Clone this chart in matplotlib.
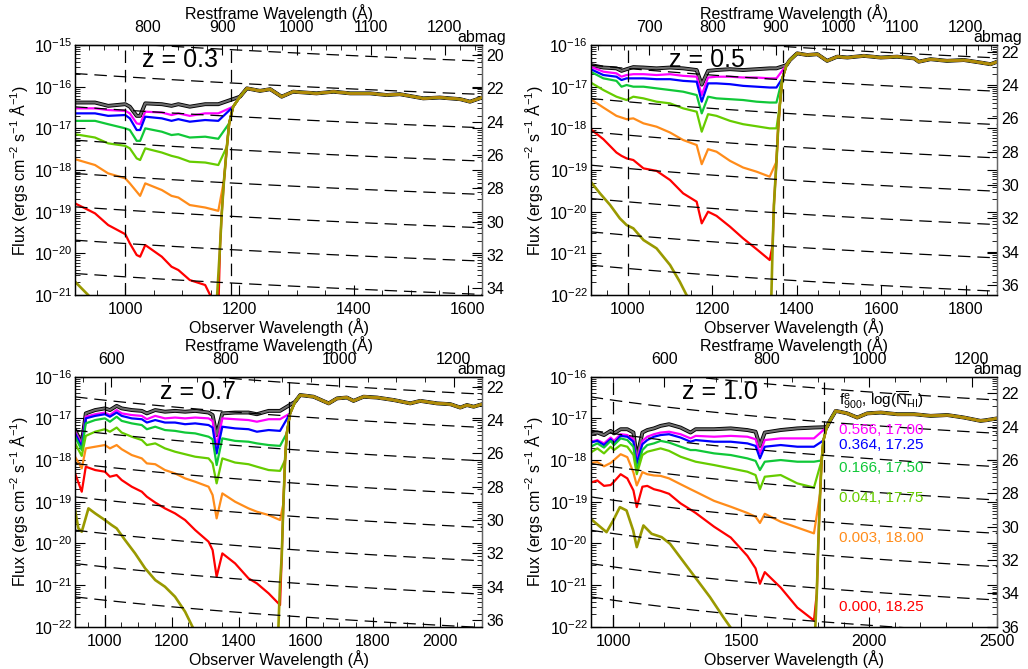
import numpy as np
import matplotlib
matplotlib.use('Agg')
import matplotlib.pyplot as plt
from matplotlib.ticker import MultipleLocator, LogLocator, NullFormatter

plt.rcParams['font.family'] = ['Liberation Sans', 'DejaVu Sans']
plt.rcParams['mathtext.fontset'] = 'custom'
plt.rcParams['mathtext.rm'] = 'Liberation Sans'
plt.rcParams['mathtext.it'] = 'Liberation Sans:italic'
plt.rcParams['mathtext.bf'] = 'Liberation Sans:bold'
plt.rcParams['font.size'] = 11.5

# ---------------- data (observed wavelength in A, log10 flux) ----------------
nan = np.nan
redshifts = [0.3, 0.5, 0.7, 1.0]
f900_labels = ['0.566', '0.364', '0.166', '0.041', '0.003', '0.000']
lognhi_labels = ['17.00', '17.25', '17.50', '17.75', '18.00', '18.25']
ab_levels = [18, 20, 22, 24, 26, 28, 30, 32, 34, 36, 38, 40]

# z = 0.3
wave_03 = [912, 947, 970, 1000, 1008, 1020, 1026, 1035, 1064, 1081, 1093, 1113, 1140, 1163]
black_03 = [-16.38, -16.38, -16.46, -16.42, -16.48, -16.70, -16.70, -16.40, -16.42, -16.46, -16.42, -16.48, -16.42, -16.42]
magenta_03 = [-16.52, -16.52, -16.56, -16.58, -16.64, -16.88, -16.90, -16.60, -16.62, -16.68, -16.64, -16.70, -16.64, -16.64]
blue_03 = [-16.64, -16.64, -16.70, -16.68, -16.76, -17.04, -17.04, -16.72, -16.76, -16.82, -16.78, -16.84, -16.80, -16.82]
green_03 = [-16.82, -16.82, -16.90, -17.00, -17.04, -17.30, -17.30, -17.00, -17.08, -17.16, -17.14, -17.22, -17.20, -17.25]
ygreen_03 = [-17.14, -17.22, -17.36, -17.42, -17.48, -17.72, -17.76, -17.48, -17.58, -17.66, -17.70, -17.80, -17.82, -17.88]
orange_03 = [-17.74, -17.88, -18.08, -18.20, -18.32, -18.52, -18.62, -18.32, -18.48, -18.62, -18.66, -18.84, -18.90, -18.98]
red_03 = [-18.80, -19.04, -19.32, -19.54, -19.76, -20.04, -20.08, -19.80, -20.08, -20.32, -20.40, -20.64, -20.76, -21.40]
olive_wave_03 = [912, 935, 960, 1000, 1100, 1150]
olive_03 = [-20.68, -21.0, -21.4, -21.9, -22.8, -23.2]
edge_wave_03 = [1158, 1161, 1166, 1169, 1173, 1178, 1182, 1189, 1201]
edge_03 = [-21.6, -21.0, -19.84, -19.04, -18.24, -17.44, -16.88, -16.48, -16.24]
cont_wave_03 = [1213, 1236, 1254, 1274, 1294, 1335, 1365, 1394, 1429, 1458, 1481, 1522, 1551, 1587, 1604, 1625]
cont_03 = [-16.04, -16.10, -16.06, -16.24, -16.12, -16.16, -16.12, -16.16, -16.16, -16.20, -16.18, -16.28, -16.26, -16.30, -16.36, -16.26]

# z = 0.5
wave_05 = [912, 942, 973, 985, 997, 1013, 1037, 1068, 1100, 1131, 1163, 1175, 1190, 1210, 1242, 1273, 1305, 1336, 1352]
black_05 = [-16.48, -16.54, -16.56, -16.62, -16.58, -16.53, -16.54, -16.56, -16.54, -16.56, -16.60, -16.95, -16.62, -16.60, -16.58, -16.60, -16.58, -16.56, -16.56]
magenta_05 = [-16.52, -16.64, -16.68, -16.76, -16.72, -16.70, -16.70, -16.72, -16.70, -16.74, -16.76, -17.20, -16.78, -16.76, -16.76, -16.78, -16.78, -16.80, -16.80]
blue_05 = [-16.58, -16.72, -16.76, -16.84, -16.80, -16.80, -16.80, -16.82, -16.82, -16.86, -16.88, -17.36, -16.92, -16.92, -16.94, -16.98, -17.00, -17.02, -17.02]
green_05 = [-16.64, -16.80, -16.86, -17.00, -16.96, -17.00, -17.00, -17.04, -17.08, -17.12, -17.20, -17.64, -17.24, -17.28, -17.30, -17.32, -17.36, -17.38, -17.38]
ygreen_05 = [-16.90, -17.08, -17.24, -17.28, -17.32, -17.24, -17.28, -17.36, -17.40, -17.52, -17.60, -18.08, -17.66, -17.70, -17.82, -17.90, -17.95, -18.00, -18.00]
orange_05 = [-17.30, -17.50, -17.70, -17.74, -17.78, -17.76, -17.88, -17.96, -18.10, -18.28, -18.40, -18.86, -18.50, -18.56, -18.78, -18.94, -19.04, -19.16, nan]
red_05 = [-18.02, -18.26, -18.58, -18.66, -18.72, -18.76, -18.96, -19.02, -19.24, -19.56, -19.76, -20.28, -20.00, -20.10, -20.36, -20.64, -20.90, -21.16, nan]
olive_wave_05 = [912, 934, 958, 981, 997, 1013, 1037, 1068, 1100, 1123, 1139, 1250]
olive_05 = [-19.28, -19.56, -19.84, -20.16, -20.32, -20.40, -20.68, -20.88, -21.28, -21.68, -22.0, -23.5]
edge_wave_05 = [1340, 1343, 1346, 1352, 1356, 1360, 1366, 1376, 1384]
edge_05 = [-22.0, -20.8, -19.84, -18.8, -18.0, -17.44, -16.8, -16.48, -16.36]
cont_wave_05 = [1401, 1425, 1449, 1472, 1496, 1520, 1559, 1599, 1638, 1678, 1689, 1717, 1756, 1796, 1835, 1859, 1875]
cont_05 = [-16.20, -16.24, -16.22, -16.38, -16.28, -16.30, -16.26, -16.30, -16.28, -16.32, -16.40, -16.34, -16.38, -16.36, -16.42, -16.46, -16.40]

# z = 0.7
wave_07 = [912, 932, 944, 972, 1001, 1016, 1036, 1051, 1081, 1111, 1126, 1151, 1180, 1210, 1240, 1270, 1310, 1322, 1334, 1351, 1389, 1429, 1454, 1489, 1523]
black_07 = [-17.28, -17.60, -16.88, -16.80, -16.76, -16.80, -16.70, -16.76, -16.80, -16.82, -16.88, -16.80, -16.84, -16.82, -16.84, -16.82, -16.86, -16.92, -17.40, -16.88, -16.86, -16.86, -16.90, -16.82, -16.82]
magenta_07 = [-17.32, -17.64, -16.96, -16.90, -16.86, -16.92, -16.80, -16.88, -16.92, -16.94, -17.02, -16.94, -17.00, -16.98, -17.00, -16.98, -17.00, -17.06, -17.68, -17.00, -17.02, -17.04, -17.08, -17.02, -17.02]
blue_07 = [-17.36, -17.68, -17.00, -16.94, -16.90, -16.96, -16.86, -16.94, -17.00, -17.02, -17.10, -17.04, -17.10, -17.10, -17.14, -17.12, -17.16, -17.22, -17.84, -17.20, -17.24, -17.26, -17.32, -17.28, -17.30]
green_07 = [-17.44, -17.76, -17.12, -17.04, -17.00, -17.08, -16.96, -17.06, -17.12, -17.16, -17.26, -17.20, -17.28, -17.30, -17.34, -17.36, -17.44, -17.50, -18.12, -17.48, -17.54, -17.56, -17.60, -17.64, -17.66]
ygreen_07 = [-17.60, -17.90, -17.42, -17.32, -17.26, -17.32, -17.22, -17.34, -17.44, -17.52, -17.64, -17.60, -17.72, -17.80, -17.86, -17.92, -17.96, -18.08, -18.56, -17.96, -18.06, -18.10, -18.16, -18.24, -18.26]
orange_07 = [-17.92, -18.20, -17.72, -17.68, -17.64, -17.72, -17.64, -17.74, -17.88, -17.96, -18.08, -18.10, -18.24, -18.32, -18.44, -18.52, -18.64, -18.84, -19.40, -18.80, -19.00, -19.16, -19.24, -19.32, -19.44]
red_07 = [-18.32, -18.76, -18.16, -18.24, -18.28, -18.40, -18.36, -18.48, -18.64, -18.76, -18.88, -19.02, -19.16, -19.28, -19.44, -19.68, -19.96, -20.16, -20.80, -20.24, -20.48, -20.84, -20.96, -21.20, -21.48]
olive_wave_07 = [912, 922, 932, 952, 972, 1001, 1021, 1036, 1061, 1091, 1121, 1151, 1180, 1210, 1240, 1265, 1400]
olive_07 = [-19.20, -19.64, -19.72, -19.16, -19.28, -19.44, -19.56, -19.64, -19.92, -20.24, -20.60, -20.88, -21.04, -21.28, -21.64, -22.05, -23.5]
edge_wave_07 = [1518, 1520, 1523, 1528, 1533, 1538, 1543, 1553, 1568]
edge_07 = [-22.05, -21.6, -20.96, -20.32, -19.04, -18.0, -17.36, -16.88, -16.60]
cont_wave_07 = [1583, 1623, 1668, 1693, 1722, 1742, 1772, 1812, 1862, 1911, 1941, 1991, 2031, 2060, 2080, 2100, 2125]
cont_07 = [-16.44, -16.48, -16.64, -16.52, -16.50, -16.58, -16.48, -16.50, -16.56, -16.64, -16.58, -16.64, -16.66, -16.74, -16.68, -16.72, -16.66]

# z = 1.0
wave_10 = [912, 938, 964, 990, 1003, 1029, 1055, 1079, 1092, 1114, 1133, 1159, 1185, 1218, 1263, 1302, 1322, 1394, 1459, 1524, 1556, 1573, 1592, 1654, 1719, 1784]
black_10 = [-17.38, -17.34, -17.40, -17.30, -17.36, -17.26, -17.26, -17.34, -17.96, -17.34, -17.28, -17.24, -17.18, -17.14, -17.22, -17.34, -17.26, -17.26, -17.24, -17.28, -17.32, -17.66, -17.34, -17.28, -17.24, -17.22]
magenta_10 = [-17.56, -17.52, -17.60, -17.46, -17.54, -17.38, -17.40, -17.50, -18.02, -17.54, -17.44, -17.38, -17.34, -17.32, -17.38, -17.48, -17.42, -17.44, -17.42, -17.44, -17.50, -17.84, -17.52, -17.48, -17.48, -17.48]
blue_10 = [-17.58, -17.54, -17.64, -17.50, -17.60, -17.42, -17.44, -17.56, -18.08, -17.62, -17.52, -17.44, -17.40, -17.38, -17.46, -17.56, -17.52, -17.56, -17.56, -17.60, -17.66, -17.96, -17.68, -17.64, -17.68, -17.68]
green_10 = [-17.68, -17.60, -17.70, -17.54, -17.64, -17.48, -17.52, -17.68, -18.24, -17.76, -17.64, -17.60, -17.54, -17.58, -17.68, -17.76, -17.76, -17.84, -17.88, -17.96, -18.02, -18.24, -18.04, -18.00, -18.04, -18.04]
ygreen_10 = [-17.82, -17.72, -17.84, -17.68, -17.76, -17.64, -17.68, -17.88, -18.34, -17.88, -17.80, -17.76, -17.72, -17.78, -17.92, -18.00, -18.04, -18.12, -18.20, -18.28, -18.36, -18.70, -18.40, -18.36, -18.56, -18.66]
orange_10 = [-18.07, -18.05, -18.15, -18.07, -18.00, -17.86, -17.93, -18.30, -18.61, -18.29, -18.34, -18.37, -18.38, -18.44, -18.58, -18.70, -18.76, -18.98, -19.12, -19.27, -19.36, -19.51, -19.29, -19.48, -19.62, -19.76]
red_10 = [-18.54, -18.49, -18.62, -18.60, -18.52, -18.34, -18.44, -18.73, -19.13, -18.64, -18.62, -18.70, -18.74, -18.81, -19.04, -19.19, -19.27, -19.60, -19.86, -20.30, -20.60, -20.97, -20.69, -21.06, -21.54, -21.85]
olive_wave_10 = [912, 935, 974, 1000, 1026, 1052, 1078, 1092, 1118, 1150, 1189, 1222, 1261, 1300, 1339, 1378, 1430, 1463, 1650]
olive_10 = [-19.41, -19.53, -19.73, -19.45, -19.13, -19.21, -19.69, -20.09, -19.57, -19.77, -19.85, -20.01, -20.33, -20.65, -20.97, -21.29, -21.77, -22.06, -23.5]
edge_wave_10 = [1789, 1795, 1801, 1808, 1814, 1821, 1834, 1847]
edge_10 = [-22.06, -21.21, -20.01, -18.81, -18.01, -17.53, -17.21, -17.05]
cont_wave_10 = [1869, 1914, 1953, 1992, 2045, 2110, 2175, 2240, 2305, 2370, 2435, 2461, 2500]
cont_10 = [-16.82, -16.88, -16.98, -16.88, -16.86, -16.90, -16.90, -16.94, -16.92, -16.98, -17.06, -17.04, -17.00]

# axis setup per panel
xlims = [(912, 1625), (912, 1875), (912, 2125), (912, 2500)]
ylims = [(1e-21, 1e-15), (1e-22, 1e-16), (1e-22, 1e-16), (1e-22, 1e-16)]
mag_tops = [19.4, 21.6, 21.4, 21.0]
obs_ticks = [(200, 50), (200, 50), (200, 50), (500, 100)]
rest_ticks = [(100, 20), (100, 20), (200, 50), (200, 50)]
z_text_x = [0.165, 0.193, 0.209, 0.225]

COLORS = {'black': 'black', 'magenta': '#ff00ff', 'blue': '#0000ff', 'green': '#10c838',
          'ygreen': '#66cc00', 'orange': '#ff8c1a', 'red': '#ff0000', 'olive': '#999900'}
LEGEND_COLORS = ['magenta', 'blue', 'green', 'ygreen', 'orange', 'red']
DASH = (0, (10, 5.5))


def join_spectrum(wave, logf, edge_wave, edge_logf, cont_wave, cont_logf):
    """Blueward part + the Lyman-edge points above it + the redward continuum."""
    w = np.asarray(wave, float)
    f = np.asarray(logf, float)
    ok = np.isfinite(f)
    w, f = w[ok], f[ok]
    ew = np.asarray(edge_wave, float)
    ef = np.asarray(edge_logf, float)
    keep = (ew > w[-1]) & (ef > f[-1])
    w = np.concatenate([w, ew[keep], cont_wave])
    f = np.concatenate([f, ef[keep], cont_logf])
    return w, 10.0 ** f


def draw_panel(ax, i, wave, curves, olive, edge, cont):
    z = redshifts[i]
    x0, x1 = xlims[i]

    for name in ['black', 'magenta', 'blue', 'green', 'ygreen', 'orange', 'red']:
        w, f = join_spectrum(wave, curves[name], edge[0], edge[1], cont[0], cont[1])
        if name == 'black':
            ax.plot(w, f, color='black', lw=2.8, zorder=2)
            ax.plot(w, f, color='#6e6e6e', lw=1.5, zorder=2)
        else:
            ax.plot(w, f, color=COLORS[name], lw=1.6, zorder=2)
    w, f = join_spectrum(olive[0], olive[1], edge[0], edge[1], cont[0], cont[1])
    ax.plot(w, f, color=COLORS['olive'], lw=1.9, zorder=2)
    # the overlapping curves redward of the Lyman limit blend into a brownish tone
    ax.plot(cont[0], 10.0 ** np.asarray(cont[1]), color='#b8860b', lw=0.9, zorder=2)

    # constant AB magnitude guide lines
    lam = np.linspace(x0, x1, 100)
    for m in ab_levels:
        ax.plot(lam, 10 ** (-0.4 * (m + 48.6)) * 2.998e18 / lam ** 2,
                color='black', lw=0.9, ls=DASH, zorder=3)
    ax.axvline(1000, color='black', lw=0.9, ls=DASH, zorder=3)
    ax.axvline(912 * (1 + z), color='black', lw=0.9, ls=DASH, zorder=3)

    ax.set_yscale('log')
    ax.set_xlim(x0, x1)
    ax.set_ylim(*ylims[i])
    ax.xaxis.set_major_locator(MultipleLocator(obs_ticks[i][0]))
    ax.xaxis.set_minor_locator(MultipleLocator(obs_ticks[i][1]))
    ax.yaxis.set_major_locator(LogLocator(base=10, numticks=12))
    ax.yaxis.set_minor_locator(LogLocator(base=10, subs=np.arange(2, 10), numticks=12))
    ax.yaxis.set_minor_formatter(NullFormatter())
    ax.set_xlabel('Observer Wavelength (Å)', labelpad=1)
    ax.set_ylabel('Flux (ergs cm$^{-2}$ s$^{-1}$ Å$^{-1}$)', labelpad=3)

    sec = ax.secondary_xaxis('top', functions=(lambda x, z=z: x / (1 + z),
                                               lambda r, z=z: r * (1 + z)))
    sec.xaxis.set_major_locator(MultipleLocator(rest_ticks[i][0]))
    sec.xaxis.set_minor_locator(MultipleLocator(rest_ticks[i][1]))
    sec.tick_params(which='both', direction='in', pad=7)
    sec.tick_params(which='major', length=7, width=0.8)
    sec.tick_params(which='minor', length=3.5, width=0.6)
    sec.set_xlabel('Restframe Wavelength (Å)', labelpad=1)

    tw = ax.twinx()
    tw.set_ylim(mag_tops[i] + 15, mag_tops[i])
    tw.yaxis.set_major_locator(MultipleLocator(2))
    tw.tick_params(which='major', direction='in', length=7, width=0.8, pad=3)

    # twinx moves the flux ticks to the left only; mirror them on the right edge
    ax.tick_params(which='both', direction='in', top=False, right=True,
                   labelright=False, left=True, labelleft=True)
    ax.tick_params(which='major', length=7, width=0.8)
    ax.tick_params(which='minor', length=3.5, width=0.6)
    ax.tick_params(axis='x', pad=5)
    ax.tick_params(axis='y', pad=2)

    ax.text(1.0, 1.03, 'abmag', transform=ax.transAxes, ha='center', va='center')
    ax.text(z_text_x[i], 0.94, 'z = %.1f' % z, transform=ax.transAxes,
            fontsize=18, va='center', ha='left')
    for s in list(ax.spines.values()) + list(tw.spines.values()):
        s.set_linewidth(0.9)
    tw.spines['right'].set_color('#666666')
    ax.spines['right'].set_color('#666666')


def main():
    fig = plt.figure(figsize=(10.28, 6.69), dpi=100)
    positions = [[0.0730, 0.5590, 0.3959, 0.3737], [0.5746, 0.5590, 0.3955, 0.3737],
                 [0.0730, 0.0632, 0.3959, 0.3737], [0.5746, 0.0632, 0.3955, 0.3737]]
    panels = [
        (wave_03, dict(black=black_03, magenta=magenta_03, blue=blue_03, green=green_03,
                       ygreen=ygreen_03, orange=orange_03, red=red_03),
         (olive_wave_03, olive_03), (edge_wave_03, edge_03), (cont_wave_03, cont_03)),
        (wave_05, dict(black=black_05, magenta=magenta_05, blue=blue_05, green=green_05,
                       ygreen=ygreen_05, orange=orange_05, red=red_05),
         (olive_wave_05, olive_05), (edge_wave_05, edge_05), (cont_wave_05, cont_05)),
        (wave_07, dict(black=black_07, magenta=magenta_07, blue=blue_07, green=green_07,
                       ygreen=ygreen_07, orange=orange_07, red=red_07),
         (olive_wave_07, olive_07), (edge_wave_07, edge_07), (cont_wave_07, cont_07)),
        (wave_10, dict(black=black_10, magenta=magenta_10, blue=blue_10, green=green_10,
                       ygreen=ygreen_10, orange=orange_10, red=red_10),
         (olive_wave_10, olive_10), (edge_wave_10, edge_10), (cont_wave_10, cont_10)),
    ]
    axes = []
    for i, (wave, curves, olive, edge, cont) in enumerate(panels):
        ax = fig.add_axes(positions[i])
        draw_panel(ax, i, wave, curves, olive, edge, cont)
        axes.append(ax)

    # legend of escape fractions in the z = 1.0 panel
    ax = axes[3]
    ax.text(0.611, 0.907, r'f$^{\rm e}_{\rm 900}$, log($\overline{\rm N}_{\rm HI}$)',
            transform=ax.transAxes, ha='left', va='center', fontsize=11, zorder=5)
    label_y = [0.787, 0.727, 0.635, 0.515, 0.355, 0.079]
    for name, fe, nh, y in zip(LEGEND_COLORS, f900_labels, lognhi_labels, label_y):
        ax.text(0.611, y, fe + ', ' + nh, color=COLORS[name], transform=ax.transAxes,
                ha='left', va='center', fontsize=11, zorder=5)

    fig.savefig('out.png', dpi=100)


if __name__ == '__main__':
    main()
